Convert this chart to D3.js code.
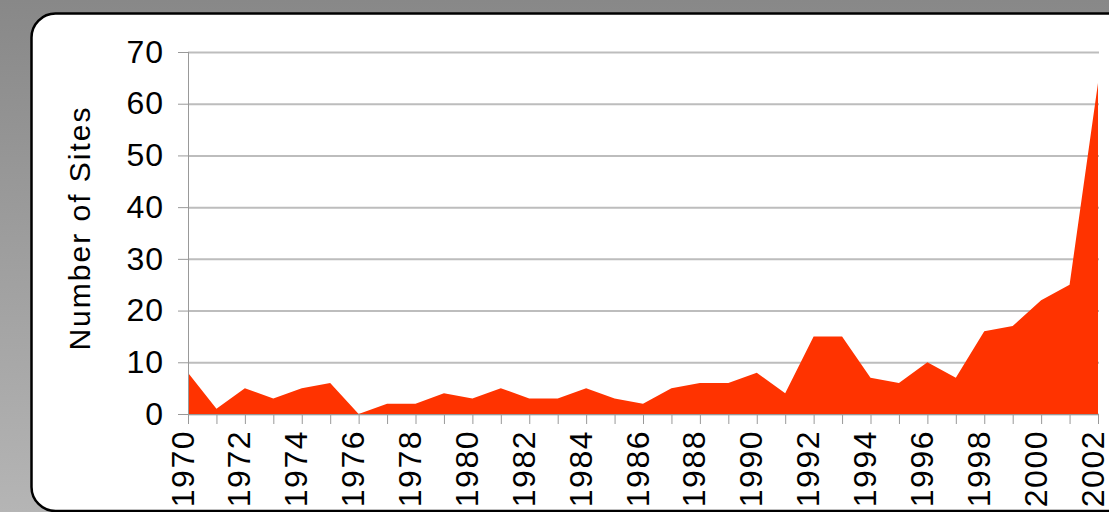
<!DOCTYPE html>
<html>
<head>
<meta charset="utf-8">
<script src="https://cdn.jsdelivr.net/npm/d3@7"></script>
<style>
  html, body { margin: 0; padding: 0; background: #999; }
  svg { display: block; }
  text { font-family: "Liberation Sans", Arial, Helvetica, sans-serif; fill: #000; }
</style>
</head>
<body>
<svg id="chart" width="1109" height="512"></svg>
<script>
const years = d3.range(1970, 2003);
const sites = [8, 1, 5, 3, 5, 6, 0, 2, 2, 4, 3, 5, 3, 3, 5, 3, 2, 5, 6, 6, 8, 4, 15, 15, 7, 6, 10, 7, 16, 17, 22, 25, 64];
const yTicks = [0, 10, 20, 30, 40, 50, 60, 70];
const xLabels = d3.range(1970, 2003, 2);
const yTitle = "Number of Sites";

const W = 1109, H = 512;
const svg = d3.select("#chart");
const defs = svg.append("defs");
const bg = defs.append("linearGradient").attr("id", "bg").attr("x1", 0).attr("y1", 0).attr("x2", 0).attr("y2", 1);
bg.append("stop").attr("offset", "0%").attr("stop-color", "#888888");
bg.append("stop").attr("offset", "100%").attr("stop-color", "#b5b5b5");
svg.append("rect").attr("width", W).attr("height", H).attr("fill", "url(#bg)");

// panel
svg.append("rect")
  .attr("x", 31.5).attr("y", 13.5).attr("width", 1200).attr("height", 497.5)
  .attr("rx", 24).attr("ry", 24)
  .attr("fill", "#fff").attr("stroke", "#000").attr("stroke-width", 2.5);

const x = d3.scaleLinear().domain([1970, 2002]).range([188, 1098]);
const y = d3.scaleLinear().domain([0, 70]).range([414, 52]);

// gridlines
const grid = svg.append("g").attr("transform", "translate(188,0)")
  .call(d3.axisLeft(y).tickValues(yTicks).tickSize(-911).tickFormat(""));
grid.select(".domain").remove();
grid.selectAll("line").attr("stroke", "#bdbdbd").attr("stroke-width", 2);

// area
const area = d3.area()
  .x((d, i) => x(years[i]))
  .y0(y(0))
  .y1(d => y(d));
svg.append("path").datum(sites).attr("d", area).attr("fill", "#ff3300");

// y axis
const yAxis = svg.append("g").attr("transform", "translate(188,0)")
  .call(d3.axisLeft(y).tickValues(yTicks).tickSize(10).tickPadding(14));
yAxis.select(".domain").attr("d", `M0.5,${y(70)}V${y(0) + 10}`).attr("stroke", "#999");
yAxis.selectAll("line").attr("stroke", "#999");
yAxis.selectAll("text").attr("font-size", 32).attr("letter-spacing", 1)
  .attr("font-family", "Liberation Sans, Arial, sans-serif").attr("fill", "#000");

// x axis
const xAxis = svg.append("g").attr("transform", `translate(0,${y(0)})`)
  .call(d3.axisBottom(x).tickValues(years).tickSize(10).tickFormat(""));
xAxis.select(".domain").attr("stroke", "#999").attr("d", `M188,0.5H1099`);
xAxis.selectAll("line").attr("stroke", "#999");

svg.append("g").selectAll("text").data(xLabels).join("text")
  .attr("transform", d => `translate(${x(d) + 5.5},${y(0) + 16}) rotate(-90)`)
  .attr("text-anchor", "end")
  .attr("font-size", 32)
  .attr("letter-spacing", 1.5)
  .text(d => d);

// y title
svg.append("text")
  .attr("transform", `translate(90,228) rotate(-90)`)
  .attr("text-anchor", "middle")
  .attr("font-size", 30)
  .attr("letter-spacing", 2)
  .text(yTitle);
</script>
</body>
</html>
